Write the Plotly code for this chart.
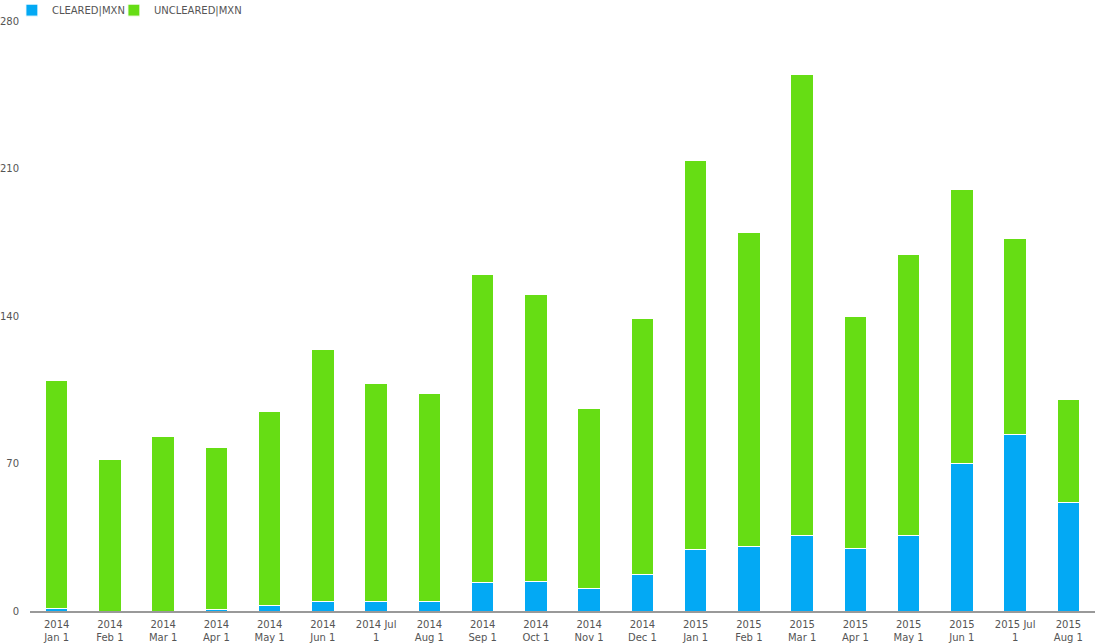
import plotly.graph_objects as go

categories = ["2014<br>Jan 1", "2014<br>Feb 1", "2014<br>Mar 1", "2014<br>Apr 1", "2014<br>May 1",
              "2014<br>Jun 1", "2014 Jul<br>1", "2014<br>Aug 1", "2014<br>Sep 1", "2014<br>Oct 1",
              "2014<br>Nov 1", "2014<br>Dec 1", "2015<br>Jan 1", "2015<br>Feb 1", "2015<br>Mar 1",
              "2015<br>Apr 1", "2015<br>May 1", "2015<br>Jun 1", "2015 Jul<br>1", "2015<br>Aug 1"]

cleared = [1, 0, 0, 0.5, 2.4, 4.7, 4.7, 4.7, 13.3, 13.8, 10.9, 17.1, 29, 30.8, 36, 29.9, 36, 69.8, 84, 51.3]
totals = [109.2, 71.7, 82.6, 77.4, 94.9, 124.3, 108.2, 103, 159.5, 150.4, 96.3, 138.6, 214, 179.4, 254.4,
          140, 169, 199.8, 177, 100.6]
uncleared = [round(t - c, 1) for t, c in zip(totals, cleared)]

y_ticks = [0, 70, 140, 210, 280]

font = dict(family="DejaVu Sans, Verdana, sans-serif", size=10, color="#555555")

fig = go.Figure()
fig.add_trace(go.Bar(x=categories, y=cleared, name="CLEARED|MXN", legendwidth=57,
                     marker=dict(color="#03A9F4", line=dict(color="white", width=1))))
fig.add_trace(go.Bar(x=categories, y=uncleared, name="UNCLEARED|MXN", legendwidth=130,
                     marker=dict(color="#66DD14", line=dict(color="white", width=1))))

fig.update_layout(
    barmode="stack",
    bargap=0.58,
    width=1100, height=644,
    margin=dict(l=30, r=5, t=21, b=33, autoexpand=False),
    plot_bgcolor="white", paper_bgcolor="white",
    font=font,
    showlegend=True,
    legend=dict(orientation="h", x=-0.017, xanchor="left", y=1.043, yanchor="top",
                font=dict(size=10, color="#555555"), itemwidth=30,
                traceorder="normal", bgcolor="rgba(0,0,0,0)", tracegroupgap=0),
    xaxis=dict(type="category", showgrid=False, showline=True, linecolor="#999999", linewidth=2,
               ticks="", tickfont=dict(size=10, color="#555555"), zeroline=False,
               ticklabelstandoff=3),
    yaxis=dict(range=[0, 280], tickvals=y_ticks, showgrid=False, zeroline=False, showline=False,
               ticks="", tickfont=dict(size=10, color="#555555"), ticklabelstandoff=10),
)

fig.write_html("out.html")
